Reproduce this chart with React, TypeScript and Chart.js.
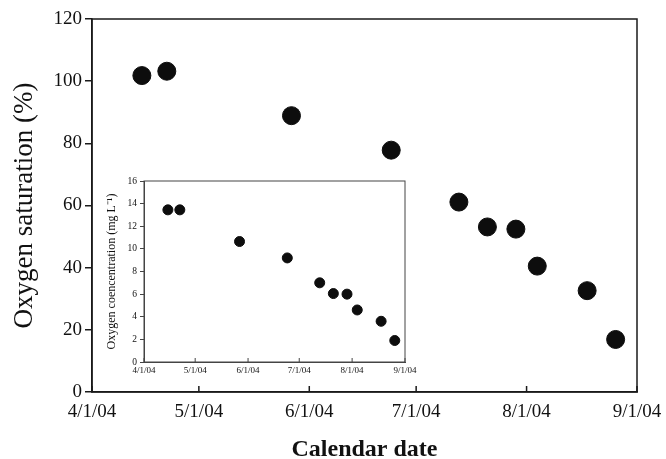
import React, { useEffect, useRef } from "react";
import { Chart, registerables } from "chart.js";

Chart.register(...registerables);

const sampleDates = [
  "2004-04-15", "2004-04-22", "2004-05-27", "2004-06-24", "2004-07-13",
  "2004-07-21", "2004-07-29", "2004-08-04", "2004-08-18", "2004-08-26",
];
const saturation = [101.8, 103.2, 88.9, 77.8, 61.1, 53.1, 52.4, 40.5, 32.6, 16.9];
const concentration = [13.45, 13.45, 10.65, 9.2, 7.0, 6.05, 6.0, 4.6, 3.6, 1.9];
const tickDates = ["2004-04-01", "2004-05-01", "2004-06-01", "2004-07-01", "2004-08-01", "2004-09-01"];
const tickLabels = ["4/1/04", "5/1/04", "6/1/04", "7/1/04", "8/1/04", "9/1/04"];

const START = Date.UTC(2004, 3, 1);
const toDay = (s: string) => {
  const [y, m, d] = s.split("-").map(Number);
  return Math.round((Date.UTC(y, m - 1, d) - START) / 86400000);
};
const tickDays = tickDates.map(toDay);
const FONT = "'Liberation Serif', 'Times New Roman', serif";

const framePlugin = {
  id: "frame",
  afterDraw(chart: any, _args: any, opts: any) {
    const { ctx, chartArea: a, scales } = chart;
    ctx.save();
    ctx.strokeStyle = opts.color || "#111";
    ctx.lineWidth = opts.lineWidth || 1.5;
    ctx.strokeRect(a.left, a.top, a.right - a.left, a.bottom - a.top);
    ctx.beginPath();
    const x = scales.x;
    x.ticks.forEach((t: any) => {
      const px = x.getPixelForValue(t.value);
      ctx.moveTo(px, a.bottom);
      ctx.lineTo(px, a.bottom - (opts.tick || 6));
    });
    ctx.stroke();
    ctx.restore();
  },
};

function makeConfig(
  values: number[],
  o: {
    radius: number; yMax: number; yStep: number; yTitle: string; xTitle?: string;
    tickFont: number; xTickFont: number; yTitleFont: number; yWidth: number; xHeight: number;
    padding: any; yTitlePad: number; yTickLen: number; xTickPad: number; frameLw: number; frameColor: string; inTick: number;
  }
): any {
  return {
    type: "scatter",
    data: {
      datasets: [
        {
          data: sampleDates.map((d, i) => ({ x: toDay(d), y: values[i] })),
          backgroundColor: "#0d0d0d",
          borderColor: "#0d0d0d",
          pointRadius: o.radius,
          pointHoverRadius: o.radius,
        },
      ],
    },
    options: {
      responsive: false,
      animation: false,
      events: [],
      layout: { padding: o.padding },
      plugins: {
        legend: { display: false },
        tooltip: { enabled: false },
        frame: { lineWidth: o.frameLw, color: o.frameColor, tick: o.inTick },
      },
      scales: {
        x: {
          type: "linear",
          min: 0,
          max: tickDays[tickDays.length - 1],
          afterBuildTicks: (s: any) => {
            s.ticks = tickDays.map((v) => ({ value: v }));
          },
          afterFit: (s: any) => {
            s.height = o.xHeight;
            s.paddingLeft = 0;
            s.paddingRight = 0;
          },
          grid: { display: false, drawTicks: false },
          border: { display: true, color: o.frameColor, width: o.frameLw },
          ticks: {
            autoSkip: false,
            maxRotation: 0,
            padding: o.xTickPad,
            color: "#111",
            font: { family: FONT, size: o.xTickFont },
            callback: (v: any) => {
              const i = tickDays.indexOf(Number(v));
              return i >= 0 ? tickLabels[i] : "";
            },
          },
          title: o.xTitle
            ? {
                display: true,
                text: o.xTitle,
                color: "#111",
                font: { family: FONT, size: 24, weight: "bold", lineHeight: 1 },
                padding: { top: 0, bottom: -3 },
              }
            : { display: false },
        },
        y: {
          min: 0,
          max: o.yMax,
          afterFit: (s: any) => {
            s.width = o.yWidth;
            s.paddingTop = 0;
            s.paddingBottom = 0;
          },
          grid: {
            display: true,
            drawOnChartArea: false,
            drawTicks: true,
            tickLength: o.yTickLen,
            color: o.frameColor,
            lineWidth: o.frameLw,
          },
          border: { display: true, color: o.frameColor, width: o.frameLw },
          ticks: {
            stepSize: o.yStep,
            padding: 3,
            color: "#111",
            font: { family: FONT, size: o.tickFont },
          },
          title: {
            display: true,
            text: o.yTitle,
            color: "#111",
            font: { family: FONT, size: o.yTitleFont },
            padding: { top: o.yTitlePad, bottom: 0 },
          },
        },
      },
    },
    plugins: [framePlugin],
  };
}

export default function App() {
  const mainRef = useRef<HTMLCanvasElement>(null);
  const insetRef = useRef<HTMLCanvasElement>(null);

  useEffect(() => {
    const main = new Chart(
      mainRef.current!,
      makeConfig(saturation, {
        radius: 9, yMax: 120, yStep: 20, yTitle: "Oxygen saturation (%)", xTitle: "Calendar date",
        tickFont: 19, xTickFont: 19, yTitleFont: 27, yWidth: 92, xHeight: 67,
        padding: { left: 0, top: 19, right: 29, bottom: 0 }, yTitlePad: 9, yTickLen: 7, xTickPad: 9,
        frameLw: 1.5, frameColor: "#1a1a1a", inTick: 6,
      })
    );
    const inset = new Chart(
      insetRef.current!,
      makeConfig(concentration, {
        radius: 5, yMax: 16, yStep: 2, yTitle: "Oxygen coencentration (mg L\u207B\u00B9)",
        tickFont: 9.5, xTickFont: 9, yTitleFont: 12, yWidth: 44, xHeight: 22,
        padding: { left: 0, top: 11, right: 15, bottom: 0 }, yTitlePad: 5, yTickLen: 4, xTickPad: 3,
        frameLw: 1, frameColor: "#444", inTick: 4,
      })
    );
    return () => {
      main.destroy();
      inset.destroy();
    };
  }, []);

  return (
    <div style={{ position: "absolute", left: 0, top: 0, width: 666, height: 459, background: "#fff" }}>
      <canvas ref={mainRef} width={666} height={459} style={{ position: "absolute", left: 0, top: 0, display: "block" }} />
      <canvas ref={insetRef} width={320} height={214} style={{ position: "absolute", left: 100, top: 170, display: "block" }} />
    </div>
  );
}
